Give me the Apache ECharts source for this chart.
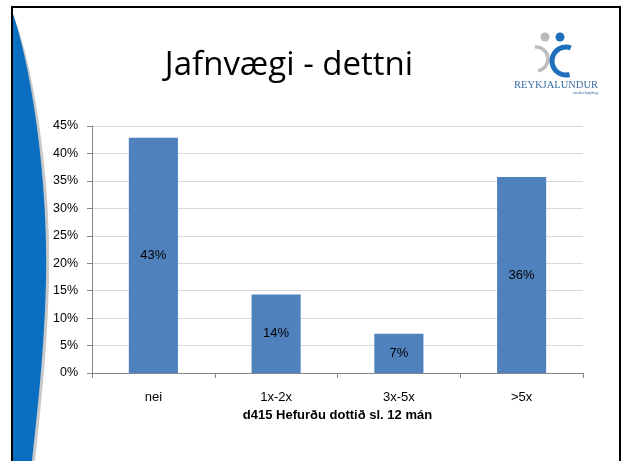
<!DOCTYPE html>
<html>
<head>
<meta charset="utf-8">
<script src="https://cdn.jsdelivr.net/npm/echarts@6/dist/echarts.min.js"></script>
<style>
html,body{margin:0;padding:0;background:#fff;}
#c{width:622px;height:461px;}
</style>
</head>
<body>
<div id="c"></div>
<script>
const categories = ['nei', '1x-2x', '3x-5x', '>5x'];
const values = [42.86, 14.29, 7.14, 35.71];
const valueLabels = ['43%', '14%', '7%', '36%'];
const titleText = 'Jafnvægi - dettni';
const axisTitle = 'd415 Hefurðu dottið sl. 12 mán';

function bez(p0, p1, p2, p3, n) {
  const out = [];
  for (let i = 0; i <= n; i++) {
    const t = i / n, u = 1 - t;
    out.push([
      u*u*u*p0[0] + 3*u*u*t*p1[0] + 3*u*t*t*p2[0] + t*t*t*p3[0],
      u*u*u*p0[1] + 3*u*u*t*p1[1] + 3*u*t*t*p2[1] + t*t*t*p3[1]
    ]);
  }
  return out;
}
function swoosh(dx) {
  const a = bez([13, 14], [32 + dx, 70], [48 + dx, 180], [46 + dx, 280], 30);
  const b = bez([46 + dx, 280], [44 + dx, 360], [36 + dx, 420], [32 + dx, 461], 20);
  return a.concat(b.slice(1)).concat([[13, 461]]);
}

const chart = echarts.init(document.getElementById('c'), null, {renderer: 'canvas'});
const font = '"Liberation Sans", "Noto Sans", sans-serif';
const deg = Math.PI / 180;
chart.setOption({
  animation: false,
  backgroundColor: '#ffffff',
  grid: {left: 92, right: 39, top: 126, bottom: 88},
  xAxis: {
    type: 'category',
    data: categories,
    axisLine: {lineStyle: {color: '#868686', width: 1}},
    axisTick: {show: true, length: 5, lineStyle: {color: '#868686'}},
    axisLabel: {color: '#000', fontFamily: font, fontSize: 13, margin: 18},
    name: axisTitle,
    nameLocation: 'middle',
    nameGap: 32,
    nameTextStyle: {color: '#000', fontFamily: font, fontSize: 13, fontWeight: 'bold'}
  },
  yAxis: {
    type: 'value',
    min: 0, max: 45, interval: 5,
    axisLine: {show: true, lineStyle: {color: '#868686', width: 1}},
    axisTick: {show: true, length: 5, lineStyle: {color: '#868686'}},
    splitLine: {lineStyle: {color: '#d9d9d9', width: 1}},
    axisLabel: {color: '#000', fontFamily: font, fontSize: 12.5, margin: 14, formatter: v => v + '%'}
  },
  series: [{
    type: 'bar',
    data: values,
    barWidth: '40%',
    itemStyle: {color: '#4f81bd'},
    label: {
      show: true, position: 'inside', color: '#000', fontFamily: font, fontSize: 13,
      formatter: p => valueLabels[p.dataIndex]
    }
  }],
  graphic: [
    {type: 'polygon', z: 10, shape: {points: swoosh(3)}, style: {fill: '#c9c9c9'}},
    {type: 'polygon', z: 11, shape: {points: swoosh(0)}, style: {fill: '#0a6fc0'}},
    {type: 'line', z: 12, shape: {x1: 12, y1: 7, x2: 620, y2: 7}, style: {stroke: '#000', lineWidth: 2}},
    {type: 'line', z: 12, shape: {x1: 12, y1: 6, x2: 12, y2: 461}, style: {stroke: '#000', lineWidth: 2}},
    {type: 'line', z: 12, shape: {x1: 620, y1: 6, x2: 620, y2: 461}, style: {stroke: '#000', lineWidth: 2}},
    {type: 'text', z: 12, style: {text: titleText, x: 289, y: 66, align: 'center', verticalAlign: 'middle', font: '33px "Open Sans", "Liberation Sans", sans-serif', fill: '#000'}},
    {type: 'circle', z: 12, shape: {cx: 545, cy: 37, r: 4.5}, style: {fill: '#b9b9b9'}},
    {type: 'circle', z: 12, shape: {cx: 560, cy: 37, r: 4.5}, style: {fill: '#1f6fbd'}},
    {type: 'arc', z: 12, shape: {cx: 536, cy: 59, r: 12, startAngle: -95 * deg, endAngle: 80 * deg, clockwise: true}, style: {stroke: '#bdbdbd', lineWidth: 3.5, fill: null}},
    {type: 'arc', z: 13, shape: {cx: 566, cy: 61, r: 14, startAngle: 75 * deg, endAngle: 290 * deg, clockwise: true}, style: {stroke: '#1f6fbd', lineWidth: 5, fill: null}},
    {type: 'text', z: 12, style: {text: 'REYKJALUNDUR', x: 556, y: 85, align: 'center', verticalAlign: 'middle', font: '10.5px "Liberation Serif", serif', fill: '#3b6fa8'}},
    {type: 'text', z: 12, style: {text: 'endurhæfing', x: 598, y: 93, align: 'right', verticalAlign: 'middle', font: 'italic 5px "Liberation Serif", serif', fill: '#3b6fa8'}}
  ]
});
</script>
</body>
</html>
